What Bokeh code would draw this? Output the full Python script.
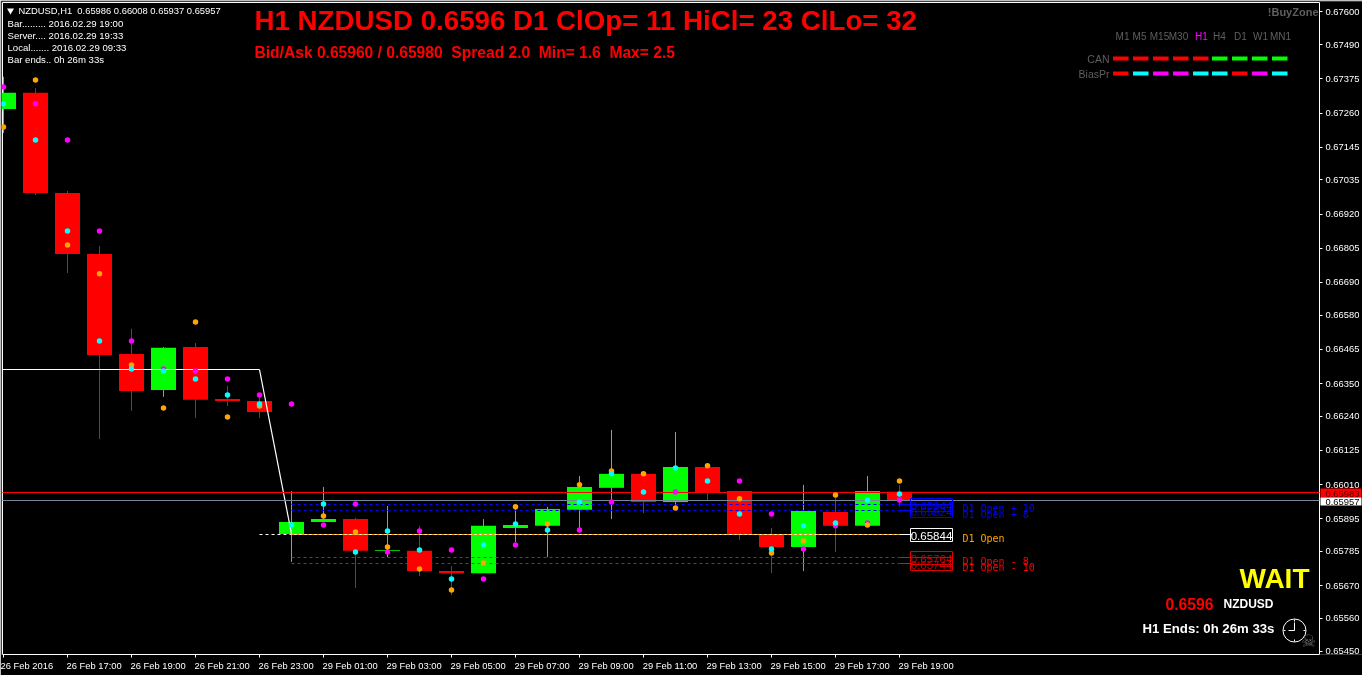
from bokeh.plotting import figure
from bokeh.embed import file_html
from bokeh.resources import INLINE
from bokeh.models import Label, FixedTicker, NumeralTickFormatter

# ---------- data ----------
opens  = [.67274, .67328, .66991, .66786, .66449, .66328, .66473, .66298, .66291, .65844, .65884, .65894,
          .65787, .65787, .65719, .65712, .65864, .65871, .65925, .65999, .66046, .65951, .66069, .65988, .65844,
          .65800, .65918, .65871, .65986]
highs  = [.67382, .67344, .66998, .66813, .66534, .66473, .66486, .66342, .66318, .65988, .66002, .65898,
          .65938, .65871, .65736, .65894, .65945, .65935, .66039, .66194, .66052, .66187, .66076, .65988, .65864,
          .66009, .65978, .66039, .66008]
lows   = [.67193, .66984, .66722, .66163, .66258, .66305, .66234, .66274, .66234, .65750, .65884, .65662,
          .65766, .65702, .65638, .65712, .65817, .65766, .65854, .65894, .65914, .65941, .65958, .65824, .65712,
          .65719, .65783, .65871, .65937]
closes = [.67328, .66991, .66786, .66446, .66325, .66470, .66295, .66291, .66254, .65884, .65894, .65787,
          .65790, .65719, .65712, .65871, .65874, .65928, .66002, .66046, .65951, .66069, .65982, .65844, .65800,
          .65921, .65871, .65988, .65957]
orange_dots = [.67213, .67371, .66816, .66719, .66412, .66268, .66557, .66237, .66274, None, .65904, .65850,
               .65800, .65726, .65655, .65746, .65935, .65877, .66009, .66056, .66046, .65931, .66073, .65962,
               .65780, .65820, .65975, .65874, .66022]
cyan_dots   = [.67291, .67169, .66863, .66493, .66399, .66392, .66365, .66311, .66281, .65874, .65945, .65783,
               .65854, .65790, .65692, .65807, .65877, .65857, .65951, .66046, .65985, .66066, .66022, .65911,
               .65793, .65871, .65881, .65958, .65978]
magenta_dots = [.67348, .67291, .67169, .66863, .66493, .66399, .66392, .66365, .66311, .66281, .65874, .65945,
                .65783, .65854, .65790, .65692, .65807, None, .65857, .65951, None, .65985, None, .66022,
                .65911, .65793, .65871, .65881, .65958]
ma_bars   = [-1, 8, 9]
ma_values = [.66397, .66397, .65844]
d1_open = .65844
d1_upper = [.65944, .65924]
d1_lower = [.65764, .65744]
bid_line = .65983
last_close = .65957
y_ticks = [.67600, .67490, .67375, .67260, .67145, .67035, .66920, .66805, .66690, .66580, .66465, .66350,
           .66240, .66125, .66010, .65895, .65785, .65670, .65560, .65450]
x_tick_bars = list(range(0, 29, 2))
x_tick_labels = ["26 Feb 2016", "26 Feb 17:00", "26 Feb 19:00", "26 Feb 21:00", "26 Feb 23:00",
                 "29 Feb 01:00", "29 Feb 03:00", "29 Feb 05:00", "29 Feb 07:00", "29 Feb 09:00",
                 "29 Feb 11:00", "29 Feb 13:00", "29 Feb 15:00", "29 Feb 17:00", "29 Feb 19:00"]
timeframes = ["M1", "M5", "M15", "M30", "H1", "H4", "D1", "W1", "MN1"]
can_colors = ["red"] * 5 + ["lime"] * 4
bias_colors = ["red", "cyan", "magenta", "magenta", "cyan", "cyan", "red", "magenta", "cyan"]

# ---------- layout helpers: page pixels -> data ----------
W, H = 1362, 675
FL, FT, FB = 1, 1, 654            # plot area edges
BL, BR, BT = 2, 1319, 2           # visible chart border
PX_PER_BAR = 32.0
PX_PER_UNIT = 29721.0
def X(px):
    return (px - 3.0) / PX_PER_BAR
def Y(py):
    return .6545 + (650.5 - py) / PX_PER_UNIT
def row(level):
    return round(650.5 - (level - .6545) * PX_PER_UNIT + 0.2)
def snap(level):
    return Y(row(level))

p = figure(width=W, height=H, frame_width=W - FL, frame_height=FB - FT,
           output_backend="svg", toolbar_location=None,
           x_range=(X(FL), X(W)), y_range=(Y(FB), Y(FT)), y_axis_location="right",
           background_fill_color="black", border_fill_color="black",
           min_border_left=FL, min_border_right=0, min_border_top=FT, min_border_bottom=H - FB,
           outline_line_color=None)
p.styles = {"position": "fixed", "left": "0", "top": "0"}
p.grid.visible = False

FONT = "Liberation Sans"
AXIS_SIZE = "9.4px"
xa = p.xaxis[0]
label_pos = [0.67] + [b + 0.83 for b in x_tick_bars[1:]]
xa.ticker = FixedTicker(ticks=label_pos, minor_ticks=x_tick_bars)
xa.major_label_overrides = dict(zip(label_pos, x_tick_labels))
xa.bounds = (X(BL), X(BR))
xa.axis_line_color = "white"
xa.major_tick_line_color = None
xa.minor_tick_line_color = "white"
xa.minor_tick_out = 3
xa.minor_tick_in = 0
xa.major_tick_out = 3
xa.major_tick_in = 0
xa.major_label_standoff = 2
xa.major_label_text_color = "white"
xa.major_label_text_font = FONT
xa.major_label_text_font_size = AXIS_SIZE

ya = p.yaxis[0]
ya.fixed_location = X(BR)
ya.ticker = FixedTicker(ticks=y_ticks)
ya.formatter = NumeralTickFormatter(format="0.00000")
ya.axis_line_color = None
ya.major_tick_line_color = "white"
ya.major_tick_out = 3
ya.major_tick_in = 0
ya.minor_tick_line_color = None
ya.major_label_standoff = 3
ya.major_label_text_color = "white"
ya.major_label_text_font = FONT
ya.major_label_text_font_size = AXIS_SIZE

# chart border
p.line([X(BL), X(BL)], [Y(BT), Y(FB)], line_color="white")
p.line([X(BR), X(BR)], [Y(BT), Y(FB)], line_color="white")
p.line([X(BL), X(BR)], [Y(BT), Y(BT)], line_color="white")

# ---------- candles ----------
bars = list(range(len(opens)))
cols = ["lime" if c >= o else "red" for o, c in zip(opens, closes)]
p.segment(bars, highs, bars, lows, line_color=cols, line_width=1)
p.vbar(bars, width=25 / PX_PER_BAR,
       top=[max(o, c) for o, c in zip(opens, closes)],
       bottom=[min(o, c) for o, c in zip(opens, closes)],
       fill_color=cols, line_color=None)

# ---------- level lines ----------
p.line([X(BL), 8], [snap(ma_values[0])] * 2, line_color="white", line_width=1)
p.line(ma_bars[1:], ma_values[1:], line_color="white", line_width=1.2)
p.line([8, 9], [snap(d1_open)] * 2, line_color="white", line_dash="3 3")
p.line([9, 28.4], [snap(d1_open)] * 2, line_color="white")
p.line([9, 28], [snap(d1_open)] * 2, line_color="orange", line_dash="3 2")
for lv in d1_upper:
    p.line([9, 28], [snap(lv)] * 2, line_color="blue", line_dash="3 3")
    p.line([28, 28.4], [snap(lv)] * 2, line_color="blue")
for lv in d1_lower:
    p.line([9, 28], [snap(lv)] * 2, line_color="red", line_dash="3 3")
    p.line([28, 28.4], [snap(lv)] * 2, line_color="red")
p.line([X(BL), X(BR)], [snap(bid_line)] * 2, line_color="red")
p.line([X(BL), X(BR)], [snap(last_close)] * 2, line_color="#778899")

# ---------- indicator dots ----------
for series, c in [(magenta_dots, "magenta"), (orange_dots, "orange"), (cyan_dots, "cyan")]:
    xs = [b for b, v in zip(bars, series) if v is not None]
    ys = [v for v in series if v is not None]
    p.scatter(xs, ys, marker="circle", size=5.5, fill_color=c, line_color=None)

# ---------- text helper ----------
NB = "\u00a0"
def txt(px, py, s, color="white", size=10.0, font=FONT, style="normal", align="left"):
    p.add_layout(Label(x=X(px), y=Y(py), text=s, text_color=color, text_font=font,
                       text_font_size=f"{size}px", text_font_style=style,
                       text_align=align, text_baseline="middle"))

# header
p.scatter([X(10)], [Y(10)], marker="inverted_triangle", size=7, fill_color="white", line_color=None)
txt(18, 9.5, f"NZDUSD,H1{NB}{NB}0.65986 0.66008 0.65937 0.65957", size=9.4)
for i, s in enumerate(["Bar......... 2016.02.29 19:00", "Server.... 2016.02.29 19:33",
                       "Local....... 2016.02.29 09:33", "Bar ends.. 0h 26m 33s"]):
    txt(7, 22.5 + 12 * i, s, size=9.6)
txt(254, 19.5, "H1 NZDUSD 0.6596 D1 ClOp= 11 HiCl= 23 ClLo= 32", "red", 27.7, style="bold")
txt(254, 52, f"Bid/Ask 0.65960 / 0.65980{NB}{NB}Spread 2.0{NB}{NB}Min= 1.6{NB}{NB}Max= 2.5", "red", 15.6, style="bold")

# top-right panel
GRAY = "#5f5f5f"
txt(1318, 11, "!BuyZone", GRAY, 11.0, style="bold", align="right")
tf_centres = [1122, 1139, 1159, 1178, 1201, 1219, 1240, 1260, 1280]
for cx, s in zip(tf_centres, timeframes):
    txt(cx, 36, s, "magenta" if s == "H1" else GRAY, 10.0, align="center")
txt(1109, 58, "CAN", GRAY, 10.5, align="right")
txt(1109, 73, "BiasPr", GRAY, 10.5, align="right")
seg_left = [1113, 1133, 1153, 1173, 1193, 1212, 1232, 1252, 1272]
for py, colors in [(58, can_colors), (73, bias_colors)]:
    p.quad(left=[X(s - 0.5) for s in seg_left], right=[X(s + 15) for s in seg_left],
           top=Y(py - 2), bottom=Y(py + 2), fill_color=colors, line_color=None)

# level boxes
def level_box(level, color, text_color):
    cy = row(level)
    p.quad(left=[X(910)], right=[X(952)], top=[Y(cy - 6)], bottom=[Y(cy + 7)],
           fill_color=None, line_color=color)
    txt(931, cy + 1, f"{level:.5f}", text_color, 11.5, align="center")
for lv in d1_upper:
    level_box(lv, "blue", "blue")
for lv in d1_lower:
    level_box(lv, "#dd0000", "#cc0000")
level_box(d1_open, "white", "white")
MONO = "DejaVu Sans Mono"
txt(962, 508, "D1 Open + 10", "blue", 10.0, font=MONO)
txt(962, 513.5, "D1 Open + 8", "blue", 10.0, font=MONO)
txt(962, 538, "D1 Open", "orange", 10.0, font=MONO)
txt(962, 561, "D1 Open - 8", "red", 10.0, font=MONO)
txt(962, 567, "D1 Open - 10", "red", 10.0, font=MONO)

# price tags on the axis
for level, bg, fg, top, bottom in [(bid_line, "red", "#400000", 488, 497), (last_close, "white", "black", 497, 505)]:
    p.quad(left=[X(1320)], right=[X(1361)], top=[Y(top)], bottom=[Y(bottom)], fill_color=bg, line_color=None)
    txt(1325, (top + bottom) / 2 + 0.5, f"{level:.5f}", fg, 9.4)

# bottom-right
txt(1239, 578, "WAIT", "yellow", 28.0, style="bold")
txt(1165, 603.5, "0.6596", "red", 15.7, style="bold")
txt(1223, 603.5, "NZDUSD", "white", 12.0, style="bold")
txt(1142, 627.5, "H1 Ends: 0h 26m 33s", "white", 13.2, style="bold")

# clock and skull
cx, cy = 1294, 630
p.scatter([X(cx)], [Y(cy)], marker="circle", size=23, fill_color=None, line_color="white")
p.segment([X(cx), X(cx)], [Y(cy), Y(cy)], [X(cx - 6), X(cx)], [Y(cy), Y(cy - 8)], line_color="white")
p.segment([X(cx - 11), X(cx + 9), X(cx), X(cx)], [Y(cy), Y(cy), Y(cy - 11), Y(cy + 9)],
          [X(cx - 9), X(cx + 11), X(cx), X(cx)], [Y(cy), Y(cy), Y(cy - 9), Y(cy + 11)], line_color="white")
txt(1308, 640, "\u2620", "#6a6a6a", 17.0, font="DejaVu Sans", align="center")

open("out.html", "w").write(file_html(p, INLINE))
